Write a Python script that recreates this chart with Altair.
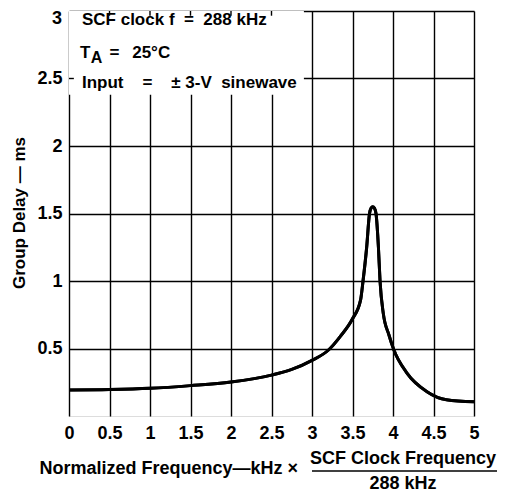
import altair as alt
import pandas as pd

# Curve values
freq = [0, 0.5, 1, 1.5, 2, 2.5, 2.75, 3, 3.2, 3.35, 3.5, 3.6, 3.63, 3.675, 3.71, 3.73, 3.75, 3.77,
        3.79, 3.82, 3.84, 3.88, 3.95, 4.01, 4.17, 4.42, 4.66, 5.0]
delay = [0.193, 0.196, 0.205, 0.225, 0.252, 0.303, 0.345, 0.412, 0.487, 0.59, 0.72, 0.86, 1.0, 1.25, 1.5,
         1.54, 1.55, 1.54, 1.5, 1.25, 1.0, 0.76, 0.6, 0.49, 0.32, 0.18, 0.12, 0.105]

x_ticks = [0, 0.5, 1, 1.5, 2, 2.5, 3, 3.5, 4, 4.5, 5]
y_ticks = [0.5, 1, 1.5, 2, 2.5, 3]
y_top_label = ["3"]
top_ticks = [0.5, 1, 1.5, 2, 2.5]

NB = "\u00a0"
notes = ["SCF clock f" + NB + " = " + NB + "288 kHz",
         "Input" + NB * 3 + " = " + NB * 3 + "\u00b1" + NB + "3-V" + NB + " sinewave"]
note_x = [0.16, 0.16]
note_y = [2.935, 2.467]
ta_parts = ["T", "A", "=", "25\u00b0C"]
ta_x = [0.136, 0.27, 0.5, 0.78]
ta_y = [2.69, 2.655, 2.69, 2.69]
ta_size = [17, 16, 17, 17]

x_title = "Normalized Frequency\u2014kHz \u00d7"
frac_num = "SCF Clock Frequency"
frac_den = "288 kHz"
y_title = "Group Delay \u2014 ms"

FONT = "Liberation Sans"

xs = alt.Scale(domain=[0, 5], nice=False)
ys = alt.Scale(domain=[0, 3], nice=False)

df = pd.DataFrame({"f": freq, "d": delay})

axis_common = dict(grid=True, gridColor="black", gridWidth=1.4, gridOpacity=1, domain=False, ticks=False,
                   labelFont=FONT, labelFontWeight="bold", labelFontSize=18, labelColor="black",
                   labelExpr="datum.value", labelFlush=False, title=None)

curve = alt.Chart(df).mark_line(stroke="black", strokeWidth=3, interpolate="monotone").encode(
    x=alt.X("f:Q", scale=xs, axis=alt.Axis(values=x_ticks, labelPadding=8, **axis_common)),
    y=alt.Y("d:Q", scale=ys, axis=alt.Axis(values=y_ticks,  labelPadding=7,
                                          **{**axis_common, "labelExpr": "datum.value == 3 ? '' : datum.value"})),
)

top_label = alt.Chart(pd.DataFrame({"t": y_top_label, "y": [3]})).mark_text(
    font=FONT, fontWeight="bold", fontSize=18, color="black", align="right", baseline="top", dx=-7, dy=-1).encode(
    x=alt.value(0), y=alt.Y("y:Q", scale=ys), text="t:N")

box = alt.Chart(pd.DataFrame({"x": [0], "x2": [2.9], "y": [2.38], "y2": [3]})).mark_rect(
    color="white").encode(x=alt.X("x:Q", scale=xs), x2="x2", y=alt.Y("y:Q", scale=ys), y2="y2")

tt = alt.Chart(pd.DataFrame({"x": top_ticks, "y": [3] * len(top_ticks), "y2": [2.965] * len(top_ticks)})
               ).mark_rule(color="black", strokeWidth=1.4).encode(
    x=alt.X("x:Q", scale=xs), y=alt.Y("y:Q", scale=ys), y2="y2")

lt = alt.Chart(pd.DataFrame({"x": [0], "x2": [0.06], "y": [2.5]})).mark_rule(
    color="black", strokeWidth=1.4).encode(x=alt.X("x:Q", scale=xs), x2="x2", y=alt.Y("y:Q", scale=ys))

notes_layer = alt.Chart(pd.DataFrame({"t": notes, "y": note_y, "x": note_x})).mark_text(
    font=FONT, fontWeight="bold", fontSize=17, color="black", align="left", baseline="middle").encode(
    x=alt.X("x:Q", scale=xs), y=alt.Y("y:Q", scale=ys), text="t:N")

ta_layer = alt.Chart(pd.DataFrame({"t": ta_parts, "x": ta_x, "y": ta_y, "s": ta_size})).mark_text(
    font=FONT, fontWeight="bold", color="black", align="left", baseline="middle").encode(
    x=alt.X("x:Q", scale=xs), y=alt.Y("y:Q", scale=ys), text="t:N",
    size=alt.Size("s:Q", scale=None, legend=None))

title_style = dict(font=FONT, fontWeight="bold", fontSize=18, color="black", baseline="middle")
t1 = alt.Chart(pd.DataFrame({"t": [x_title]})).mark_text(align="right", **title_style).encode(
    x=alt.value(229), y=alt.value(458), text="t:N")
t2 = alt.Chart(pd.DataFrame({"t": [frac_num]})).mark_text(align="center", **title_style).encode(
    x=alt.value(334), y=alt.value(448), text="t:N")
t3 = alt.Chart(pd.DataFrame({"t": [frac_den]})).mark_text(align="center", **title_style).encode(
    x=alt.value(334), y=alt.value(473), text="t:N")
frac_line = alt.Chart(pd.DataFrame({"a": [0]})).mark_rule(color="black", strokeWidth=1.6).encode(
    x=alt.value(243), x2=alt.value(428), y=alt.value(460))
ty = alt.Chart(pd.DataFrame({"t": [y_title]})).mark_text(align="center", angle=270, **{**title_style, "fontSize": 17}).encode(
    x=alt.value(-49), y=alt.value(202), text="t:N")

chart = alt.layer(curve, box, tt, lt, notes_layer, ta_layer, top_label, t1, t2, t3, frac_line, ty, curve).properties(
    width=405, height=405,
    autosize=alt.AutoSizeParams(type="none"),
    padding={"left": 61, "top": 3, "right": 24, "bottom": 77},
).configure_view(stroke="black", strokeWidth=2.2).configure(background="white")

chart.save("out.html", embed_options={"renderer": "svg", "actions": False})
